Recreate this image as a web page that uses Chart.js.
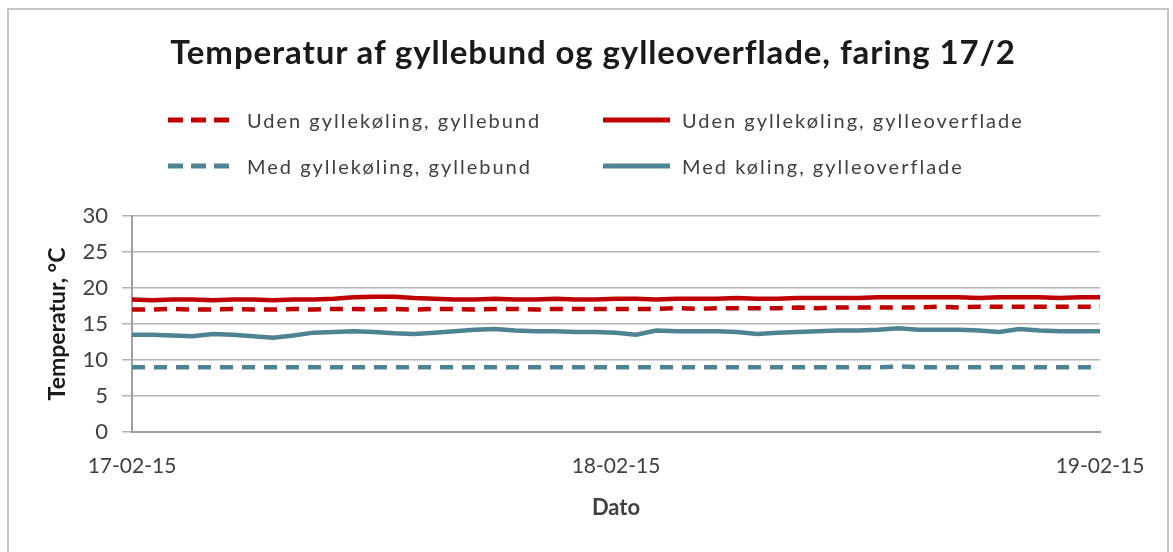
<!DOCTYPE html>
<html>
<head>
<meta charset="utf-8">
<script src="https://cdn.jsdelivr.net/npm/chart.js@4"></script>
<style>
  body { margin: 0; background: #fff; }
  #wrap { position: relative; width: 1173px; height: 552px; overflow: hidden; font-family: Lato, "Liberation Sans", sans-serif; }
  #frame { position: absolute; left: 7px; top: 8px; width: 1162px; height: 560px; border: 2px solid #c6c6c6; box-sizing: border-box; }
  #chart { position: absolute; left: 0; top: 0; }
  #title { position: absolute; left: 93px; width: 1000px; top: 31px; text-align: center; font-weight: bold; font-size: 33px; letter-spacing: 0.9px; color: #1a1a1a; white-space: nowrap; }
  #legend { position: absolute; left: 168px; top: 107px; display: grid; grid-template-columns: 435px auto; grid-auto-rows: 46px; }
  .item { display: flex; align-items: center; height: 26px; font-size: 20px; letter-spacing: 2px; color: #404040; white-space: nowrap; }
  .item svg { margin-right: 12px; }
</style>
</head>
<body>
<div id="wrap">
  <div id="frame"></div>
  <canvas id="chart" width="1173" height="552"></canvas>
  <div id="title">Temperatur af gyllebund og gylleoverflade, faring 17/2</div>
  <div id="legend"></div>
</div>
<script>
let dateLabels = ['17-02-15', '18-02-15', '19-02-15'];

// timer fra start, en måling i timen
let hours = [];
for (let h = 0; h <= 48; h++) hours.push(h);

let udenBund = [17.0, 17.0, 17.1, 17.0, 17.0, 17.1, 17.0, 17.0, 17.1, 17.0, 17.1, 17.1, 17.0,
  17.1, 17.0, 17.1, 17.1, 17.0, 17.1, 17.1, 17.0, 17.1, 17.1, 17.1, 17.1,
  17.1, 17.1, 17.2, 17.1, 17.2, 17.2, 17.2, 17.2, 17.3, 17.2, 17.3, 17.3,
  17.3, 17.3, 17.3, 17.4, 17.3, 17.4, 17.4, 17.4, 17.4, 17.4, 17.4, 17.4];

let udenOverflade = [18.4, 18.3, 18.4, 18.4, 18.3, 18.4, 18.4, 18.3, 18.4, 18.4, 18.5, 18.7, 18.8,
  18.8, 18.6, 18.5, 18.4, 18.4, 18.5, 18.4, 18.4, 18.5, 18.4, 18.4, 18.5,
  18.5, 18.4, 18.5, 18.5, 18.5, 18.6, 18.5, 18.5, 18.6, 18.6, 18.6, 18.6,
  18.7, 18.7, 18.7, 18.7, 18.7, 18.6, 18.7, 18.7, 18.7, 18.6, 18.7, 18.7];

let medBund = [9.0, 9.0, 9.0, 9.0, 9.0, 9.0, 9.0, 9.0, 9.0, 9.0, 9.0, 9.0, 9.0,
  9.0, 9.0, 9.0, 9.0, 9.0, 9.0, 9.0, 9.0, 9.0, 9.0, 9.0, 9.0,
  9.0, 9.0, 9.0, 9.0, 9.0, 9.0, 9.0, 9.0, 9.0, 9.0, 9.0, 9.0,
  9.0, 9.1, 9.0, 9.0, 9.0, 9.0, 9.0, 9.0, 9.0, 9.0, 9.0, 9.0];

let medOverflade = [13.5, 13.5, 13.4, 13.3, 13.6, 13.5, 13.3, 13.1, 13.4, 13.8, 13.9, 14.0, 13.9,
  13.7, 13.6, 13.8, 14.0, 14.2, 14.3, 14.1, 14.0, 14.0, 13.9, 13.9, 13.8,
  13.5, 14.1, 14.0, 14.0, 14.0, 13.9, 13.6, 13.8, 13.9, 14.0, 14.1, 14.1,
  14.2, 14.4, 14.2, 14.2, 14.2, 14.1, 13.9, 14.3, 14.1, 14.0, 14.0, 14.0];

let red = '#c00000';
let teal = '#4e8491';
let dash = [13, 9];

function toPoints(values) {
    return hours.map((h, i) => ({ x: h, y: values[i] }));
}

let textColor = '#404040';
let ctx = document.getElementById('chart').getContext('2d');

let chart = new Chart(ctx, {
    type: 'line',
    data: {
        datasets: [
            { label: 'Uden gyllekøling, gyllebund', data: toPoints(udenBund), borderColor: red, borderDash: dash },
            { label: 'Uden gyllekøling, gylleoverflade', data: toPoints(udenOverflade), borderColor: red, borderDash: [] },
            { label: 'Med gyllekøling, gyllebund', data: toPoints(medBund), borderColor: teal, borderDash: dash },
            { label: 'Med køling, gylleoverflade', data: toPoints(medOverflade), borderColor: teal, borderDash: [] }
        ]
    },
    options: {
        responsive: false,
        animation: false,
        layout: { padding: { top: 216, right: 73, left: 0, bottom: 0 } },
        elements: {
            point: { radius: 0 },
            line: { borderWidth: 4.5, tension: 0, borderCapStyle: 'butt' }
        },
        plugins: {
            legend: { display: false },
            title: { display: false },
            tooltip: { enabled: false }
        },
        scales: {
            x: {
                type: 'linear',
                min: 0,
                max: 48,
                afterFit: s => { s.height = 120; },
                ticks: {
                    stepSize: 24,
                    padding: 22,
                    color: textColor,
                    font: { family: 'Lato', size: 21 },
                    callback: v => dateLabels[v / 24]
                },
                grid: { display: false, drawTicks: false },
                border: { color: '#a0a0a0', width: 2 },
                title: {
                    display: true,
                    text: 'Dato',
                    color: textColor,
                    font: { family: 'Lato', size: 22, weight: 'bold' },
                    padding: { bottom: 31 }
                }
            },
            y: {
                min: 0,
                max: 30,
                afterFit: s => { s.width = 132; },
                ticks: {
                    stepSize: 5,
                    padding: 14,
                    color: textColor,
                    font: { family: 'Lato', size: 22 }
                },
                grid: { color: '#b4b4b4', lineWidth: 1.5, tickLength: 10 },
                border: { color: '#a0a0a0', width: 2 },
                title: {
                    display: true,
                    text: 'Temperatur, °C',
                    color: '#1a1a1a',
                    font: { family: 'Lato', size: 23, weight: 'bold' },
                    padding: { top: 44 }
                }
            }
        }
    }
});

// legende i to kolonner som i Excel
let legend = document.getElementById('legend');
chart.data.datasets.forEach(ds => {
    let item = document.createElement('div');
    item.className = 'item';
    let dashAttr = ds.borderDash.length ? ` stroke-dasharray="15 8"` : '';
    item.innerHTML = `<svg width="67" height="10"><line x1="0" y1="5" x2="67" y2="5" stroke="${ds.borderColor}" stroke-width="5"${dashAttr}/></svg><span>${ds.label}</span>`;
    legend.appendChild(item);
});
</script>
</body>
</html>
